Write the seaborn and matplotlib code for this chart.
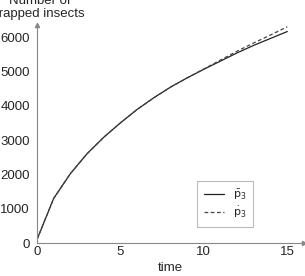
import numpy as np
import pandas as pd
import matplotlib
matplotlib.use('Agg')
import matplotlib.pyplot as plt
import seaborn as sns

# values
time = [0, 1, 2, 3, 4, 5, 6, 7, 8, 9, 10, 11, 12, 13, 14, 15]
p_bar = [100, 1300, 2020, 2600, 3080, 3500, 3890, 4230, 4540, 4810, 5060, 5300, 5540, 5760, 5960, 6160]
p_dot = [100, 1300, 2020, 2600, 3080, 3500, 3890, 4230, 4540, 4810, 5070, 5330, 5590, 5830, 6060, 6300]
labels = [r'$\bar{\mathrm{p}}_3$', r'$\dot{\mathrm{p}}_3$']

sns.set_style('white')
plt.rcParams['font.family'] = ['Liberation Sans', 'DejaVu Sans']

df = pd.DataFrame({'time': time * 2,
                   'N': p_bar + p_dot,
                   'series': [labels[0]] * len(time) + [labels[1]] * len(time)})

fig = plt.figure(figsize=(3.05, 2.76), dpi=100)
ax = fig.add_axes([37 / 305, 1 - 243 / 276, 267 / 305, 218 / 276])
sns.lineplot(data=df, x='time', y='N', hue='series', style='series',
             palette=['#222222', '#444444'], dashes=[(None, None), (3, 2)],
             linewidth=0.9, ax=ax)

ax.set_xlim(0, 16)
ax.set_ylim(0, 6350)
ax.set_xticks([0, 5, 10, 15])
ax.set_yticks([0, 1000, 2000, 3000, 4000, 5000, 6000])
ax.tick_params(labelsize=9.5, length=3, color='#888888', pad=2)
ax.tick_params(axis='x', direction='in')
for s in ['top', 'right']:
    ax.spines[s].set_visible(False)
for s in ['left', 'bottom']:
    ax.spines[s].set_color('#888888')
    ax.spines[s].set_linewidth(0.8)
ax.plot(1, 0, '>', color='#888888', ms=3, transform=ax.transAxes, clip_on=False)
ax.plot(0, 1, '^', color='#888888', ms=3, transform=ax.transAxes, clip_on=False)

ax.set_xlabel('time', fontsize=9.5, labelpad=3)
ax.set_ylabel('')
fig.text(40 / 305, 1 - 20 / 276, 'Number of\ntrapped insects', ha='center',
         va='bottom', fontsize=9.5, linespacing=1.1)

leg = ax.legend(loc='lower right', bbox_to_anchor=(216 / 267, 16 / 218),
                borderaxespad=0, fontsize=8, frameon=True, fancybox=False,
                handlelength=1.8, borderpad=0.6, labelspacing=0.3)
leg.get_frame().set_edgecolor('#aaaaaa')
leg.get_frame().set_linewidth(0.8)

fig.savefig('out.png', dpi=100)
